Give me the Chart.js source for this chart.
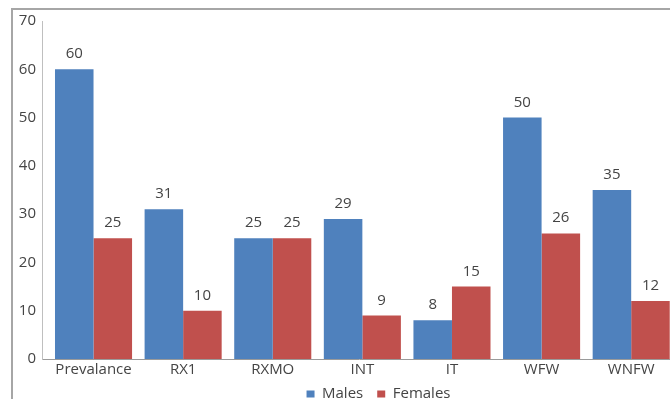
<!DOCTYPE html>
<html>
<head>
<meta charset="utf-8">
<script src="https://cdn.jsdelivr.net/npm/chart.js@4"></script>
<style>
  html, body { margin: 0; padding: 0; background: #fff; overflow: hidden; width: 670px; height: 399px; }
  #frame {
    position: absolute; left: 11px; top: 8px; width: 700px; height: 430px;
    border-top: 2px solid #a6a6a6; border-left: 2px solid #a6a6a6;
  }
  #wrap { position: absolute; left: 0; top: -4px; width: 663px; height: 414px; }
</style>
</head>
<body>
<div id="frame"><div id="wrap"><canvas id="chart"></canvas></div></div>
<script>
const categories = ['Prevalance', 'RX1', 'RXMO', 'INT', 'IT', 'WFW', 'WNFW'];
const males   = [60, 31, 25, 29, 8, 50, 35];
const females = [25, 10, 25, 9, 15, 26, 12];
const yTicks  = [0, 10, 20, 30, 40, 50, 60, 70];

const BLUE = '#4f81bd';
const RED  = '#c0504d';
const TEXT = '#444444';
const FONT = { family: '"Open Sans", sans-serif', size: 15 };

// value labels above each bar
const barValues = {
  id: 'barValues',
  afterDatasetsDraw(chart) {
    const ctx = chart.ctx;
    ctx.save();
    ctx.font = `${FONT.size}px ${FONT.family}`;
    ctx.fillStyle = TEXT;
    ctx.textAlign = 'center';
    ctx.textBaseline = 'alphabetic';
    chart.data.datasets.forEach((ds, i) => {
      chart.getDatasetMeta(i).data.forEach((bar, j) => {
        ctx.fillText(ds.data[j], bar.x, bar.y - 11);
      });
    });
    ctx.restore();
  }
};

// move the legend right and pull it up closer to the axis labels
const legendShift = {
  id: 'legendShift',
  afterLayout(chart) {
    const lg = chart.legend;
    lg.left += 34;
    lg.right += 34;
    lg.top -= 8.5;
    lg.bottom -= 8.5;
  }
};

new Chart(document.getElementById('chart'), {
  type: 'bar',
  data: {
    labels: categories.map((c, i) => i),
    datasets: [
      { label: 'Males',   data: males,   backgroundColor: BLUE },
      { label: 'Females', data: females, backgroundColor: RED },
    ],
  },
  options: {
    animation: false,
    responsive: true,
    maintainAspectRatio: false,
    layout: { padding: { top: 0, right: 0, bottom: 0, left: 0 } },
    datasets: { bar: { categoryPercentage: 0.86, barPercentage: 1.0 } },
    plugins: {
      tooltip: { enabled: false },
      legend: {
        position: 'bottom',
        labels: { color: TEXT, font: FONT, boxWidth: 8, boxHeight: 7, padding: 14 },
      },
    },
    scales: {
      x: {
        type: 'linear',
        offset: false,
        bounds: 'data',
        min: -0.575, max: 6.5,
        afterBuildTicks(axis) { axis.ticks = categories.map((c, i) => ({ value: i })); },
        grid: { display: false, drawTicks: false },
        border: { color: '#9a9a9a', width: 1 },
        ticks: {
          color: TEXT, font: FONT, padding: 2, autoSkip: false, maxRotation: 0,
          callback: (v) => categories[v],
        },
      },
      y: {
        min: 0, max: 70,
        afterFit(axis) { axis.width = 29; },
        afterBuildTicks(axis) { axis.ticks = yTicks.map(v => ({ value: v })); },
        grid: { display: false, drawTicks: false },
        border: { color: '#bfbfbf', width: 1 },
        ticks: { color: TEXT, font: FONT, padding: 6 },
      },
    },
  },
  plugins: [barValues, legendShift],
});
</script>
</body>
</html>
